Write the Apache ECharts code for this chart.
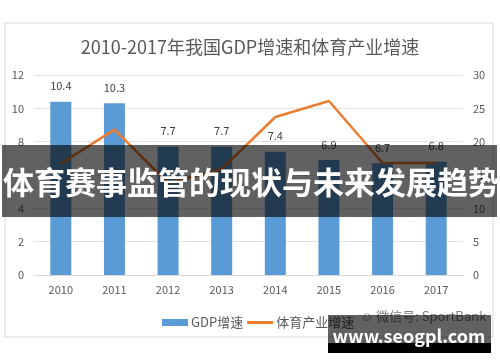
<!DOCTYPE html>
<html><head><meta charset="utf-8">
<script src="https://cdn.jsdelivr.net/npm/echarts@6/dist/echarts.min.js"></script>
<style>html,body{margin:0;padding:0;background:#fff}#c{width:500px;height:362px}</style>
</head><body><div id="c"></div>
<script>
const years = ['2010','2011','2012','2013','2014','2015','2016','2017'];
const gdpGrowth = [10.4, 10.3, 7.7, 7.7, 7.4, 6.9, 6.7, 6.8];
const sportsGrowth = [16.7, 21.8, 13.8, 15.9, 23.7, 26.1, 16.8, 16.8];
const leftTicks = [0, 2, 4, 6, 8, 10, 12];
const rightTicks = [0, 5, 10, 15, 20, 25, 30];
const titleText = '2010-2017年我国GDP增速和体育产业增速';
const bannerText = '体育赛事监管的现状与未来发展趋势';
const wechatText = '微信号: SportBank';
const siteText = 'www.seogpl.com';

const FF = '"Noto Sans CJK SC", "Noto Sans", sans-serif';
const chart = echarts.init(document.getElementById('c'));
chart.setOption({
  animation: false,
  textStyle: {fontFamily: FF},
  title: {text: titleText, left: 'center', top: 33,
    textStyle: {fontSize: 18, fontWeight: 'normal', color: '#595959', fontFamily: FF}},
  grid: {left: 34, right: 37, top: 75, bottom: 87},
  legend: {left: 157, top: 311, itemWidth: 26, itemHeight: 7, itemGap: 4,
    textStyle: {fontSize: 13, color: '#595959', padding: [0,0,0,-2]},
    data: [{name: 'GDP增速', icon: 'rect'}, {name: '体育产业增速', icon: 'path://M0,0L26,0L26,3L0,3Z'}]},
  xAxis: {type: 'category', data: years,
    axisLine: {lineStyle: {color: '#d9d9d9'}}, axisTick: {show: false},
    axisLabel: {color: '#595959', fontSize: 11, margin: 9}},
  yAxis: [
    {type: 'value', min: leftTicks[0], max: leftTicks[leftTicks.length-1], interval: 2,
      axisLine: {show: false}, axisTick: {show: false},
      axisLabel: {color: '#595959', fontSize: 11, margin: 10},
      splitLine: {lineStyle: {color: '#e3e3e3', width: 1}}},
    {type: 'value', min: rightTicks[0], max: rightTicks[rightTicks.length-1], interval: 5,
      axisLine: {show: false}, axisTick: {show: false},
      axisLabel: {color: '#595959', fontSize: 11, margin: 10},
      splitLine: {show: false}}
  ],
  series: [
    {name: 'GDP增速', type: 'bar', data: gdpGrowth, barWidth: 21,
      itemStyle: {color: '#5b9bd5'},
      label: {show: true, position: 'top', distance: 10, color: '#404040', fontSize: 11}},
    {name: '体育产业增速', type: 'line', yAxisIndex: 1, data: sportsGrowth,
      symbol: 'none', lineStyle: {color: '#ed7d31', width: 2.5}, itemStyle: {color: '#ed7d31'}}
  ],
  graphic: [
    {type: 'rect', shape: {x: 5, y: 23, width: 488, height: 314}, z: -1,
      style: {fill: 'none', stroke: '#d9d9d9', lineWidth: 1}},
    {type: 'text', left: 360, top: 310, z: 5,
      style: {text: '☺ ' + wechatText, fill: '#7f7f7f', font: '13px ' + FF}},
    {type: 'rect', shape: {x: 2, y: 145, width: 495, height: 72}, z: 100,
      style: {fill: 'rgba(0,0,0,0.62)'}},
    {type: 'text', x: 251, y: 182, z: 101,
      style: {text: bannerText, fill: '#fff', font: 'bold 31px ' + FF, align: 'center', verticalAlign: 'middle'}},
    {type: 'rect', shape: {x: 328, y: 315, width: 163, height: 28}, z: 100,
      style: {fill: 'rgba(0,0,0,0.62)'}},
    {type: 'rect', shape: {x: 328, y: 343, width: 163, height: 10}, z: 100,
      style: {fill: '#000'}},
    {type: 'text', x: 409, y: 336, z: 101,
      style: {text: siteText, fill: '#fff', font: 'bold 18px ' + FF, align: 'center', verticalAlign: 'middle'}}
  ]
});
</script></body></html>
